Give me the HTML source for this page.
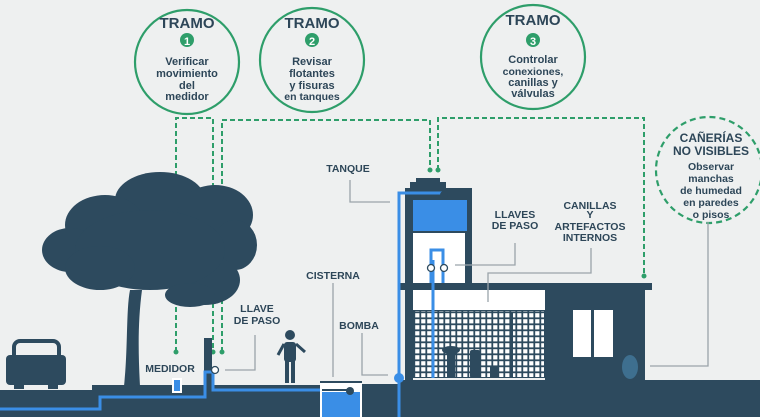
<!DOCTYPE html>
<html><head><meta charset="utf-8"><style>
html,body{margin:0;padding:0;background:#eef0f0;}
svg{display:block}
text{font-family:"Liberation Sans",sans-serif;font-weight:bold;fill:#2d4658;}
.g{fill:none;stroke:#2e9e6a;stroke-width:2;stroke-dasharray:5,3}
.l{fill:none;stroke:#9aa4aa;stroke-width:1.3}
</style></head><body>
<svg width="760" height="417" viewBox="0 0 760 417" xmlns="http://www.w3.org/2000/svg">
<rect width="760" height="417" fill="#eef0f0"/>
<g fill="none" stroke="#2e9e6a" stroke-width="2.2">
<circle cx="187" cy="62" r="52"/><circle cx="312" cy="60" r="52"/><circle cx="533" cy="57" r="52"/>
</g>
<circle cx="709" cy="170" r="53" fill="none" stroke="#2e9e6a" stroke-width="2.2" stroke-dasharray="6,4"/>
<g text-anchor="middle">
<text x="187" y="28" font-size="15">TRAMO</text>
<circle cx="187" cy="40" r="7" fill="#2e9e6a"/><text x="187" y="45" font-size="11" style="fill:#fff">1</text>
<text x="187" y="65" font-size="11">Verificar</text><text x="187" y="77" font-size="11">movimiento</text><text x="187" y="89" font-size="11">del</text><text x="187" y="100" font-size="11">medidor</text>
<text x="312" y="28" font-size="15">TRAMO</text>
<circle cx="312" cy="40" r="7" fill="#2e9e6a"/><text x="312" y="45" font-size="11" style="fill:#fff">2</text>
<text x="312" y="65" font-size="11">Revisar</text><text x="312" y="77" font-size="11">flotantes</text><text x="312" y="89" font-size="11">y fisuras</text><text x="312" y="100" font-size="10.5">en tanques</text>
<text x="533" y="25" font-size="15">TRAMO</text>
<circle cx="533" cy="40" r="7" fill="#2e9e6a"/><text x="533" y="45" font-size="11" style="fill:#fff">3</text>
<text x="533" y="63" font-size="11">Controlar</text><text x="533" y="75" font-size="10.5">conexiones,</text><text x="533" y="86" font-size="11">canillas y</text><text x="533" y="97" font-size="11">válvulas</text>
<text x="711" y="142" font-size="12">CAÑERÍAS</text><text x="711" y="155" font-size="12">NO VISIBLES</text>
<text x="711" y="170" font-size="10.5">Observar</text><text x="711" y="182" font-size="10.5">manchas</text><text x="711" y="194" font-size="10.5">de humedad</text><text x="711" y="206" font-size="10.5">en paredes</text><text x="711" y="218" font-size="10.5">o pisos</text>
</g>
<path class="g" d="M176 352V118H213V352"/>
<path class="g" d="M222 352V120H430V170"/>
<path class="g" d="M438 170V118H644V276"/>
<g fill="#2e9e6a"><circle cx="176" cy="352" r="2.5"/><circle cx="213" cy="352" r="2.5"/><circle cx="222" cy="352" r="2.5"/><circle cx="430" cy="170" r="2.5"/><circle cx="438" cy="170" r="2.5"/><circle cx="644" cy="276" r="2.5"/></g>
<g fill="#2d4a5e">
<ellipse cx="160" cy="200" rx="45" ry="28"/><ellipse cx="105" cy="225" rx="40" ry="30"/><ellipse cx="70" cy="250" rx="28" ry="22"/>
<ellipse cx="215" cy="215" rx="38" ry="30"/><ellipse cx="235" cy="245" rx="22" ry="25"/><ellipse cx="205" cy="280" rx="35" ry="25"/>
<ellipse cx="150" cy="250" rx="75" ry="40"/><ellipse cx="100" cy="268" rx="35" ry="22"/><ellipse cx="190" cy="295" rx="25" ry="12"/>
<path d="M124 386C128 350 126 310 130 290L142 290C138 320 138 350 140 386Z"/>
<rect x="14" y="341" width="45" height="24" rx="6" fill="none" stroke="#2d4a5e" stroke-width="4"/>
<rect x="6" y="355" width="60" height="30" rx="4"/>
<rect x="14" y="383" width="10" height="6"/><rect x="48" y="383" width="10" height="6"/>
<circle cx="290" cy="335" r="5"/><rect x="284" y="342" width="12" height="20" rx="3"/><rect x="285" y="360" width="4" height="23"/><rect x="291" y="360" width="4" height="23"/>
<path d="M284 344L278 355" stroke="#2d4a5e" stroke-width="3"/><path d="M296 344L305 352" stroke="#2d4a5e" stroke-width="3"/>
<rect x="204" y="338" width="8" height="48"/>
<path d="M0 390H92V385H320V381H362V384H400V380H760V417H0Z"/>
<rect x="405" y="188" width="67" height="97"/>
<rect x="410" y="182" width="36" height="6"/><rect x="416" y="178" width="24" height="4"/>
<rect x="400" y="283" width="252" height="7"/>
<rect x="545" y="290" width="100" height="95"/>
<rect x="405" y="290" width="8" height="95"/>
</g>
<rect x="413" y="200" width="54" height="31" fill="#3a8ee6"/>
<rect x="413" y="233" width="52" height="50" fill="#fff"/>
<rect x="413" y="290" width="132" height="20" fill="#fff"/>
<rect x="413" y="310" width="132" height="68" fill="#2d4a5e"/>
<pattern id="gp" width="6" height="6" patternUnits="userSpaceOnUse"><rect x="1.2" y="1.2" width="4.2" height="4.2" fill="#fff"/></pattern>
<rect x="414" y="311" width="130" height="66" fill="url(#gp)"/>
<g fill="#2d4a5e"><rect x="447" y="348" width="8" height="30"/><ellipse cx="451" cy="350" rx="9" ry="4"/><rect x="470" y="350" width="10" height="28" rx="2"/><rect x="490" y="367" width="9" height="11"/><rect x="510" y="313" width="3" height="65"/></g>
<rect x="573" y="310" width="40" height="47" fill="#fff"/><rect x="591" y="310" width="3" height="47" fill="#2d4a5e"/>
<ellipse cx="630" cy="367" rx="8" ry="12" fill="#3e6f8f"/>
<g fill="none" stroke="#3a8ee6" stroke-width="3">
<path d="M0 409H100V397H205V372H213V390H340"/>
<path d="M399 417V193H444"/>
<path d="M431 283V250H443V283"/>
<path d="M433 260V378"/>
</g>
<rect x="320" y="383" width="42" height="34" fill="#fff"/><rect x="322" y="392" width="38" height="25" fill="#3a8ee6"/>
<path d="M322 390H350" stroke="#2d4a5e" stroke-width="2"/><circle cx="350" cy="391" r="4" fill="#2d4a5e"/>
<circle cx="444" cy="195" r="4" fill="#2d4a5e"/>
<circle cx="399" cy="378" r="5" fill="#3a8ee6"/>
<rect x="172" y="378" width="10" height="15" fill="#fff"/><rect x="174" y="380" width="6" height="11" fill="#3a8ee6"/>
<g fill="#fff" stroke="#2d4a5e" stroke-width="1.3"><circle cx="215" cy="370" r="3.5"/><circle cx="431" cy="268" r="3.5"/><circle cx="444" cy="268" r="3.5"/></g>
<path class="l" d="M350 180V202H390"/><path class="l" d="M333 283V377"/><path class="l" d="M362 333V375H388"/>
<path class="l" d="M515 243V265H455"/><path class="l" d="M591 248V273H488V302"/><path class="l" d="M255 335V370H225"/>
<path class="l" d="M708 222V366H650"/>
<g font-size="10.5" text-anchor="middle">
<text x="348" y="172">TANQUE</text><text x="333" y="279">CISTERNA</text><text x="359" y="329">BOMBA</text>
<text x="515" y="218">LLAVES</text><text x="515" y="229">DE PASO</text>
<text x="590" y="209">CANILLAS</text><text x="590" y="218">Y</text><text x="590" y="230">ARTEFACTOS</text><text x="590" y="241">INTERNOS</text>
<text x="257" y="312">LLAVE</text><text x="257" y="324">DE PASO</text><text x="170" y="372">MEDIDOR</text>
</g>
</svg>
</body></html>
